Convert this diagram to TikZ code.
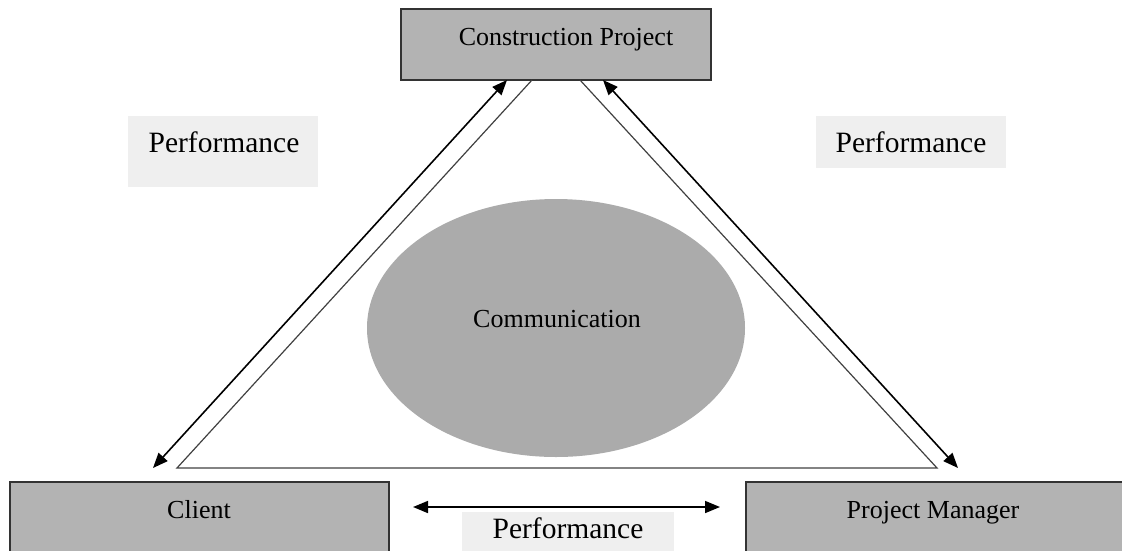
\documentclass[tikz,border=0pt]{standalone}
\usepackage{fontspec}
\setmainfont{Liberation Serif}
\usetikzlibrary{arrows.meta}
\definecolor{boxgray}{HTML}{B3B3B3}
\definecolor{ellgray}{HTML}{ABABAB}
\definecolor{labgray}{HTML}{EFEFEF}
\begin{document}
\begin{tikzpicture}[x=1pt,y=-1pt,
  entity/.style={draw=black!80,line width=1.5pt,fill=boxgray},
  txt/.style={anchor=base,inner sep=0pt,font=\fontsize{26}{30}\selectfont},
  lab/.style={anchor=base,inner sep=0pt,font=\fontsize{29.5}{34}\selectfont},
  darr/.style={line width=1.6pt,{Triangle[length=15pt,width=12pt]}-{Triangle[length=15pt,width=12pt]}},
  tri/.style={line width=1.2pt,draw=black!75}]
\useasboundingbox (0,0) rectangle (1122,550);
% boxes
\draw[entity] (401,9) rectangle (711,80);
\node[txt] (cp) at (566,45) {Construction Project};
\draw[entity] (10,482) rectangle (389,560);
\node[txt] (cl) at (199,518) {Client};
\draw[entity] (746,482) rectangle (1130,560);
\node[txt] (pm) at (933,518) {Project Manager};
% labels
\fill[labgray] (128,116) rectangle (318,187);
\node[lab] (p1) at (224,152) {Performance};
\fill[labgray] (816,116) rectangle (1006,168);
\node[lab] (p2) at (911,152) {Performance};
\fill[labgray] (462,512) rectangle (674,560);
\node[lab] (p3) at (568,538) {Performance};
% ellipse
\fill[ellgray] (556,328) ellipse (189 and 129);
\node[txt] (com) at (557,327) {Communication};
% triangle
\coordinate (tl) at (532,80);
\coordinate (tr) at (580,80);
\coordinate (bl) at (177,468);
\coordinate (br) at (937,468);
\draw[tri] (tl) -- (bl) -- (br) -- (tr);
% arrows
\coordinate (a1) at (507,80);
\coordinate (a2) at (153,468);
\coordinate (b1) at (603,80);
\coordinate (b2) at (958,468);
\draw[darr] (a2) -- (a1);
\draw[darr] (b1) -- (b2);
\coordinate (c1) at (413,507);
\coordinate (c2) at (720,507);
\draw[darr] (c1) -- (c2);
\end{tikzpicture}
\end{document}
